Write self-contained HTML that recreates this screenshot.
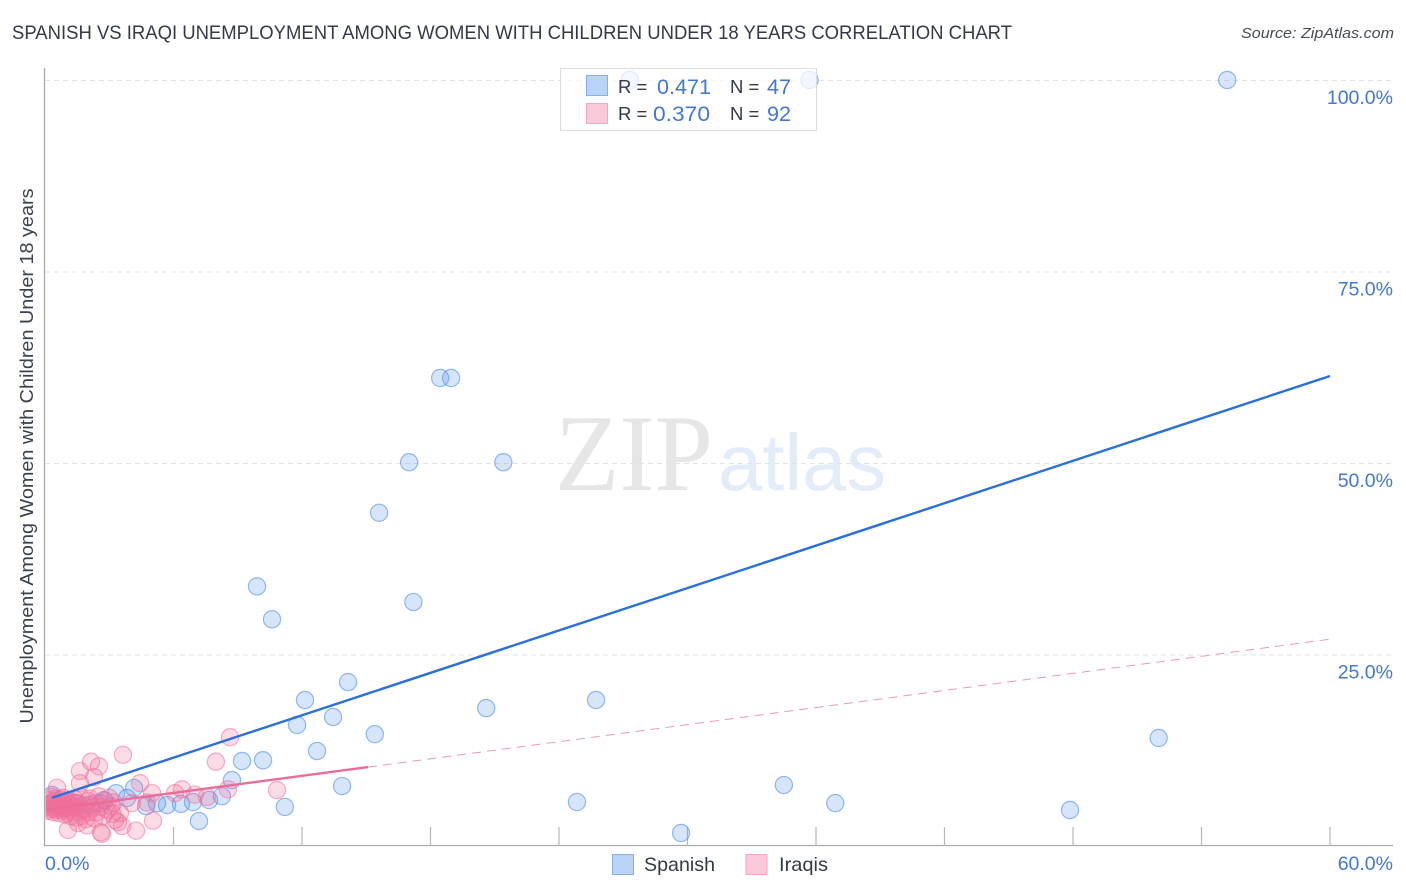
<!DOCTYPE html>
<html lang="en">
<head>
<meta charset="utf-8">
<title>Spanish vs Iraqi Unemployment Correlation Chart</title>
<style>
html,body{margin:0;padding:0;background:#fff;width:1406px;height:892px;overflow:hidden}
svg{display:block;font-family:"Liberation Sans",sans-serif}
</style>
</head>
<body>
<svg id="chart" xmlns="http://www.w3.org/2000/svg" width="1406" height="892" viewBox="0 0 1406 892">
  <defs><clipPath id="plot-clip"><rect x="45.5" y="60" width="1300" height="786"/></clipPath></defs>
  <text x="12" y="39" font-size="19.5" fill="#333a46" textLength="1000" lengthAdjust="spacingAndGlyphs">SPANISH VS IRAQI UNEMPLOYMENT AMONG WOMEN WITH CHILDREN UNDER 18 YEARS CORRELATION CHART</text>
  <text x="1394" y="38" font-size="15" font-style="italic" fill="#444c58" text-anchor="end" textLength="153" lengthAdjust="spacingAndGlyphs">Source: ZipAtlas.com</text>
  <g>
    <text x="555" y="490" font-family="'Liberation Serif',serif" font-size="109" fill="#e6e6e6" textLength="158" lengthAdjust="spacingAndGlyphs">ZIP</text>
    <text x="718" y="490" font-size="80" fill="#e3ecf9" textLength="168" lengthAdjust="spacingAndGlyphs">atlas</text>
  </g>
  <g id="grid"></g>
  <g id="axes"></g>
  <g id="marks" clip-path="url(#plot-clip)"></g>
  <g id="labels"></g>
  <text transform="translate(33,456) rotate(-90)" font-size="18.5" fill="#3a414d" text-anchor="middle" textLength="535" lengthAdjust="spacingAndGlyphs">Unemployment Among Women with Children Under 18 years</text>
  <g>
    <rect x="560.5" y="68.5" width="256" height="62" fill="#fff" fill-opacity="0.72" stroke="#dcdcdc" stroke-width="1"/>
    <rect x="586.5" y="75.5" width="21" height="20" fill="#b9d4f8" stroke="#86b0ec"/>
    <rect x="586.5" y="103.5" width="21" height="20" fill="#fcc9da" stroke="#f4a6c0"/>
    <text x="618" y="93" font-size="18.5" fill="#333a46">R =</text>
    <text x="657" y="94" font-size="21.5" fill="#4377d2" textLength="54" lengthAdjust="spacingAndGlyphs">0.471</text>
    <text x="730" y="93" font-size="18.5" fill="#333a46">N =</text>
    <text x="767" y="94" font-size="21.5" fill="#4377d2" textLength="24" lengthAdjust="spacingAndGlyphs">47</text>
    <text x="618" y="120" font-size="18.5" fill="#333a46">R =</text>
    <text x="653" y="121" font-size="21.5" fill="#4377d2" textLength="57" lengthAdjust="spacingAndGlyphs">0.370</text>
    <text x="730" y="120" font-size="18.5" fill="#333a46">N =</text>
    <text x="767" y="121" font-size="21.5" fill="#4377d2" textLength="24" lengthAdjust="spacingAndGlyphs">92</text>
  </g>
  <g>
    <rect x="612.5" y="854.5" width="21" height="20" fill="#b9d4f8" stroke="#86b0ec"/>
    <text x="644" y="871" font-size="19.5" fill="#333a46" textLength="71" lengthAdjust="spacingAndGlyphs">Spanish</text>
    <rect x="746" y="854.5" width="21" height="20" fill="#fcc9da" stroke="#f4a6c0"/>
    <text x="779" y="871" font-size="19.5" fill="#333a46" textLength="49" lengthAdjust="spacingAndGlyphs">Iraqis</text>
  </g>
</svg>
<script>
const xTickValues = [0, 6, 12, 18, 24, 30, 36, 42, 48, 54, 60];
const yTickValues = [25, 50, 75, 100];
const xLabelValues = [0, 60];
const yLabelValues = [25, 50, 75, 100];
const spanishX = [27.3,35.7,55.2,18.45,18.96,17.0,21.4,15.6,9.9,17.2,10.6,14.15,12.14,25.73,20.6,13.45,11.77,15.4,52.0,12.7,10.18,9.2,8.73,4.16,13.87,34.5,3.32,8.26,3.83,7.66,6.91,6.35,5.7,5.23,4.72,2.75,24.84,36.9,11.2,47.86,7.19,29.7,0.33,0.7,1.4,2.1,2.57];
const spanishY = [100,100,100,61.1,61.1,50.1,50.1,43.5,33.9,31.85,29.6,21.4,19.06,19.06,18.0,16.84,15.8,14.6,14.1,12.4,11.2,11.1,8.6,7.57,7.83,7.96,6.9,6.5,6.27,6.0,5.74,5.5,5.35,5.6,5.2,6.0,5.74,5.6,5.1,4.7,3.26,1.7,6.66,5.35,5.6,5.35,5.6];
const iraqisX = [3.64,8.64,7.98,2.15,2.52,1.63,2.29,1.63,0.56,4.44,5.0,6.07,6.4,7.0,7.56,8.54,10.83,5.04,4.25,3.6,3.41,3.27,3.5,2.66,2.61,1.07,1.96,1.54,4.06,4.76,
  0.1,0.15,0.2,0.2,0.25,0.3,0.3,0.35,0.4,0.4,0.45,0.5,0.5,0.55,0.6,0.6,0.65,0.7,0.7,0.75,0.8,0.8,0.85,0.9,0.9,0.95,1.0,1.0,1.05,1.1,1.15,1.2,1.2,1.25,1.3,1.35,1.4,1.45,1.5,1.55,1.6,1.65,1.7,1.8,1.85,1.9,2.0,2.05,2.1,2.2,2.3,2.35,2.4,2.5,2.6,2.7,2.8,2.9,3.0,3.1,3.15,3.2];
const iraqisY = [11.9,14.2,11.0,11.0,10.4,9.8,9.0,8.2,7.6,8.2,6.9,6.9,7.4,6.7,6.4,7.4,7.3,3.3,2.0,2.6,3.1,3.4,4.3,1.6,1.8,2.1,2.7,3.0,5.6,5.7,
  5.2,4.6,6.0,5.4,4.8,6.4,5.0,5.6,4.4,5.9,5.2,4.7,6.2,5.5,4.9,5.8,4.3,5.3,6.1,5.0,4.6,5.6,6.3,4.9,5.3,4.1,5.8,5.1,4.5,6.0,5.4,4.8,3.9,5.7,5.2,4.4,6.1,3.7,5.0,5.6,4.5,6.4,3.9,5.3,4.8,3.5,5.9,4.4,6.2,5.0,3.6,5.6,4.4,6.5,5.1,3.9,5.9,4.7,6.3,5.2,4.2,5.7];
const spanishTrendX = [0.33, 60];
const spanishTrendY = [6.3, 61.36];
const iraqisTrendX = [0.1, 15.08];
const iraqisTrendY = [4.75, 10.3];
const iraqisDashX = [15.08, 60];
const iraqisDashY = [10.3, 27.0];

function xScale(v){ return 45 + v * 1285 / 60; }
function yScale(v){ return 846 - v * 7.66; }
const NS = 'http://www.w3.org/2000/svg';
function make(parent, tag, attrs){
  const el = document.createElementNS(NS, tag);
  for (const k in attrs) el.setAttribute(k, attrs[k]);
  parent.appendChild(el);
  return el;
}
const grid = document.getElementById('grid');
const axes = document.getElementById('axes');
const marks = document.getElementById('marks');
const labels = document.getElementById('labels');

yTickValues.forEach(function(v){
  const el = make(grid, 'line', {x1:45, x2:1393, y1:yScale(v)+0.5, y2:yScale(v)+0.5, stroke:'#e2e2e2', 'stroke-width':1, 'stroke-dasharray':'5 4'});
  
  
});
const yAxis = make(axes, 'line', {x1:44.5, x2:44.5, y1:68, y2:846, stroke:'#aaaaaa', 'stroke-width':1.3});


const xAxis = make(axes, 'line', {x1:44, x2:1393, y1:845.5, y2:845.5, stroke:'#aaaaaa', 'stroke-width':1.3});


xTickValues.slice(1).forEach(function(v){
  const t = make(axes, 'line', {x1:xScale(v), x2:xScale(v), y1:827, y2:846, stroke:'#b8b8b8', 'stroke-width':1.2});
  
  
});
spanishX.forEach(function(x, i){
  const c = make(marks, 'circle', {cx:xScale(x), cy:yScale(spanishY[i]), r:8.6, fill:'#5a96ea', 'fill-opacity':0.25, stroke:'#5a96ea', 'stroke-opacity':0.65, 'stroke-width':1.2});
  
  
});
iraqisX.forEach(function(x, i){
  const c = make(marks, 'circle', {cx:xScale(x), cy:yScale(iraqisY[i]), r:8.6, fill:'#f06f9a', 'fill-opacity':0.25, stroke:'#f06f9a', 'stroke-opacity':0.55, 'stroke-width':1.2});
  
  
});
const lineB = make(marks, 'line', {x1:xScale(spanishTrendX[0]), y1:yScale(spanishTrendY[0]), x2:xScale(spanishTrendX[1]), y2:yScale(spanishTrendY[1]), stroke:'#2a6fdb', 'stroke-width':2.4});


const lineP = make(marks, 'line', {x1:xScale(iraqisTrendX[0]), y1:yScale(iraqisTrendY[0]), x2:xScale(iraqisTrendX[1]), y2:yScale(iraqisTrendY[1]), stroke:'#ec6c97', 'stroke-width':2.4});


const lineD = make(marks, 'line', {x1:xScale(iraqisDashX[0]), y1:yScale(iraqisDashY[0]), x2:xScale(iraqisDashX[1]), y2:yScale(iraqisDashY[1]), stroke:'#ee9ab5', 'stroke-width':1, 'stroke-dasharray':'9 6'});



yLabelValues.forEach(function(v){
  const t = make(labels, 'text', {x:1393, y:yScale(v)+24, 'font-size':19.5, fill:'#4377d2', 'text-anchor':'end'});
  t.textContent = v.toFixed(1) + '%';
  
  
});
xLabelValues.forEach(function(v, i){
  const t = make(labels, 'text', {x:i === 0 ? 45 : 1393, y:870, 'font-size':19.5, fill:'#4377d2', 'text-anchor':i === 0 ? 'start' : 'end'});
  t.textContent = v.toFixed(1) + '%';
  
  
});
</script>
</body>
</html>
